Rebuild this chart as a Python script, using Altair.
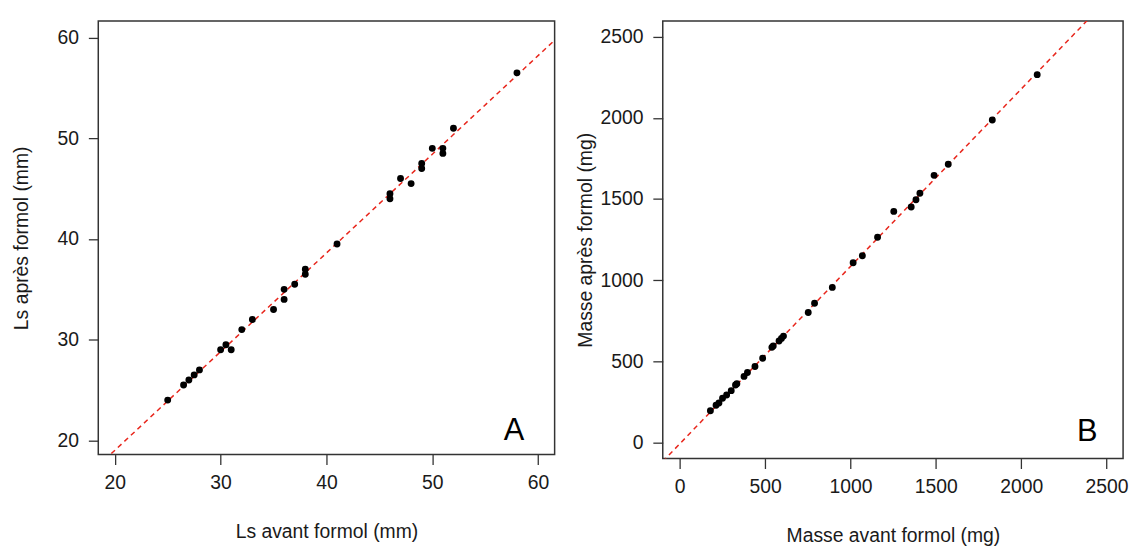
import altair as alt
import pandas as pd

# Panel A: Ls (mm)
a_avant = [25, 26.5, 27, 27.5, 28, 30, 30.5, 31, 32, 33, 35, 36, 36, 37, 38, 38, 41,
           46, 46, 47, 48, 49, 49, 50, 51, 51, 52, 58]
a_apres = [24, 25.5, 26, 26.5, 27, 29, 29.5, 29, 31, 32, 33, 34, 35, 35.5, 36.5, 37, 39.5,
           44, 44.5, 46, 45.5, 47, 47.5, 49, 48.5, 49, 51, 56.5]
a_fit = [0.98, -0.59]          # slope, intercept
a_xdom = [18.44, 61.56]
a_ydom = [18.59, 61.64]
a_ticks = [20, 30, 40, 50, 60]

# Panel B: Masse (mg)
b_avant = [180, 213, 230, 251, 275, 302, 327, 335, 377, 397, 441, 486, 540, 548, 582, 596,
           608, 753, 790, 894, 1016, 1070, 1159, 1254, 1356, 1384, 1407, 1490, 1573, 1831, 2094]
b_apres = [196, 230, 244, 273, 293, 320, 355, 363, 408, 432, 469, 520, 587, 595, 626, 642,
           656, 801, 858, 956, 1108, 1151, 1265, 1424, 1451, 1496, 1536, 1646, 1714, 1987, 2266]
b_fit = [1.0925, -8.0]
b_xdom = [-99, 2597]
b_ydom = [-98, 2596]
b_ticks = [0, 500, 1000, 1500, 2000, 2500]

panel_labels = ["A", "B"]

FONT = "Liberation Sans"
FS = 19.5


def panel(xs, ys, fit, xdom, ydom, ticks, xtitle, ytitle, label, w, h, ytitlepad, lab_xy):
    pts = pd.DataFrame({"x": xs, "y": ys})
    line = pd.DataFrame({"x": xdom, "y": [fit[0] * v + fit[1] for v in xdom]})
    xs_ = alt.Scale(domain=xdom, nice=False, zero=False)
    ys_ = alt.Scale(domain=ydom, nice=False, zero=False)
    xax = alt.Axis(values=ticks, title=xtitle, titlePadding=31, labelPadding=9, format="d")
    yax = alt.Axis(values=ticks, title=ytitle, titlePadding=ytitlepad, labelPadding=10, format="d")
    base_line = alt.Chart(line).mark_line(
        color="#e8261c", strokeDash=[5, 4], strokeWidth=1.5, clip=True
    ).encode(
        x=alt.X("x:Q", scale=xs_, axis=xax),
        y=alt.Y("y:Q", scale=ys_, axis=yax),
    )
    dots = alt.Chart(pts).mark_circle(color="black", opacity=1, size=48).encode(
        x=alt.X("x:Q", scale=xs_),
        y=alt.Y("y:Q", scale=ys_),
    )
    txt = alt.Chart(pd.DataFrame({"t": [label]})).mark_text(
        fontSize=31, font=FONT, align="center", baseline="alphabetic", color="black"
    ).encode(text="t:N", x=alt.value(lab_xy[0]), y=alt.value(lab_xy[1]))
    return alt.layer(base_line, dots, txt).properties(width=w, height=h)


pa = panel(a_avant, a_apres, a_fit, a_xdom, a_ydom, a_ticks,
           "Ls avant formol (mm)", "Ls après formol (mm)", panel_labels[0],
           460, 437, 26, (419, 422))
pb = panel(b_avant, b_apres, b_fit, b_xdom, b_ydom, b_ticks,
           "Masse avant formol (mg)", "Masse après formol (mg)", panel_labels[1],
           464, 441, 4, (428, 423))

chart = alt.hconcat(pa, pb, spacing=19).properties(
    padding={"left": 2, "top": 10, "right": 5, "bottom": 0},
    background="white",
).configure_view(
    stroke="#333", strokeWidth=1.5
).configure_axis(
    domain=False, grid=False,
    labelFont=FONT, labelFontSize=FS, labelColor="#1a1a1a",
    titleFont=FONT, titleFontSize=FS, titleFontWeight="normal", titleColor="#1a1a1a",
    tickColor="#333", tickSize=10, tickWidth=1.3,
)

chart.save("out.html", embed_options={"renderer": "svg", "actions": False})
